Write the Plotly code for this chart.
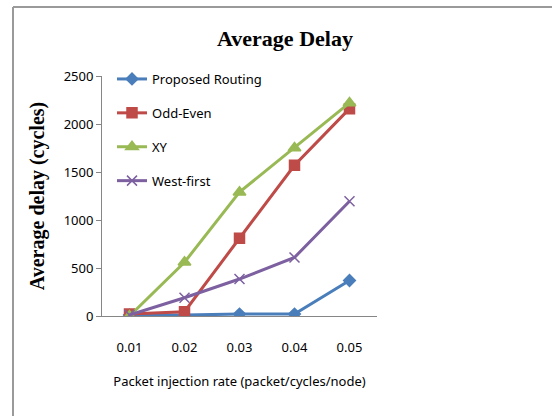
import plotly.graph_objects as go

rates = ["0.01", "0.02", "0.03", "0.04", "0.05"]
proposed = [10, 10, 20, 20, 370]
odd_even = [20, 45, 810, 1570, 2160]
xy = [0, 560, 1290, 1750, 2220]
west_first = [10, 190, 385, 610, 1195]

W, H = 552, 416
L, R, T, B = 102, 377, 76, 316  # plot area in px

def px(x):
    return (x - L) / (R - L)

def py(y):
    return (B - y) / (B - T)

fig = go.Figure()
series = [
    ("Proposed Routing", proposed, "#4a7ebb", "diamond", 9),
    ("Odd-Even", odd_even, "#be4b48", "square", 10),
    ("XY", xy, "#98b954", "triangle-up", 11),
    ("West-first", west_first, "#7d60a0", "x-thin", 10),
]
for name, vals, col, sym, sz in series:
    fig.add_trace(go.Scatter(
        x=rates, y=vals, name=name, mode="lines+markers",
        legendgroup=name,
        line=dict(color=col, width=3),
        marker=dict(symbol=sym, size=sz, color=col,
                    line=dict(color=col, width=1.5)),
    ))

fig.update_layout(
    width=W, height=H,
    margin=dict(l=L, r=W - R, t=T, b=H - B),
    paper_bgcolor="white", plot_bgcolor="white",
    showlegend=True,
    title=dict(text="<b>Average Delay</b>", x=285 / W, xanchor="center",
               y=1 - 38 / H, yanchor="middle",
               font=dict(family="Liberation Serif", size=22, color="black")),
    legend=dict(x=px(112), y=py(64), xanchor="left", yanchor="top",
                bgcolor="rgba(0,0,0,0)", itemwidth=30, tracegroupgap=14,
                font=dict(family="Noto Sans", size=13, color="black")),
    xaxis=dict(type="category", showline=True, linecolor="#868686",
               linewidth=1, showgrid=False, ticks="", ticklabelstandoff=19,
               tickfont=dict(family="Noto Sans", size=13, color="black"),
               title=dict(text="Packet injection rate (packet/cycles/node)",
                          standoff=22,
                          font=dict(family="Noto Sans", size=13, color="black")),
               range=[-0.5, 4.5]),
    yaxis=dict(range=[0, 2500], dtick=500, showline=True, linecolor="#868686",
               linewidth=1, showgrid=False, ticks="outside", ticklen=5,
               tickcolor="#868686",
               tickfont=dict(family="Noto Sans", size=13, color="black"),
               title=dict(text="<b>Average delay (cycles)</b>", standoff=13,
                          font=dict(family="Liberation Serif", size=20, color="black")),
               zeroline=False),
)

# outer chart frame
fig.add_shape(type="line", xref="paper", yref="paper",
              x0=px(13), x1=px(560), y0=py(7), y1=py(7),
              line=dict(color="#9a9a9a", width=2))
fig.add_shape(type="line", xref="paper", yref="paper",
              x0=px(13), x1=px(13), y0=py(7), y1=py(430),
              line=dict(color="#9a9a9a", width=2))

fig.write_html("out.html", config={"displayModeBar": False},
               post_script="document.body.style.margin='0';document.body.style.overflow='hidden';")
